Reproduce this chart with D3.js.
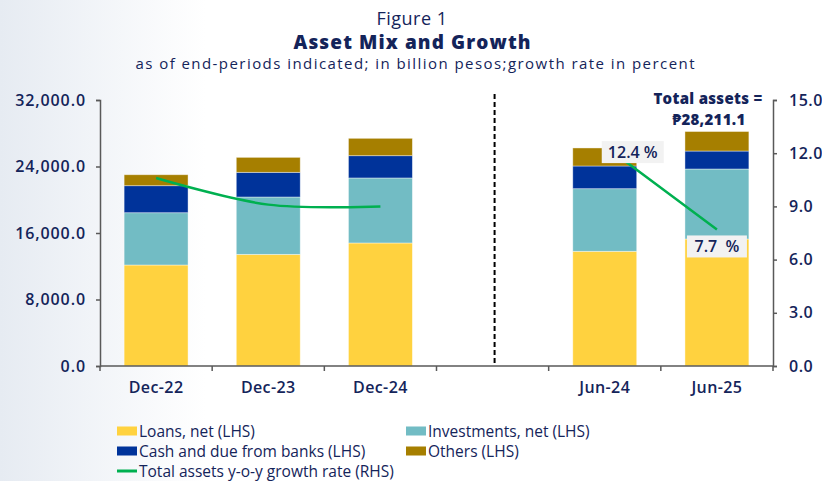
<!DOCTYPE html>
<html>
<head>
<meta charset="utf-8">
<script src="https://cdn.jsdelivr.net/npm/d3@7"></script>
<style>
  body { margin: 0; background: #fff; }
  svg text { font-family: "Open Sans", "Noto Sans", sans-serif; fill: #14245a; }
</style>
</head>
<body>
<svg id="chart" width="822" height="481"></svg>
<script>
// data
var categories = ["Dec-22", "Dec-23", "Dec-24", "", "Jun-24", "Jun-25"];
var loans       = [12150, 13430, 14800, null, 13800, 15280];
var investments = [6290, 6900, 7820, null, 7530, 8420];
var cash        = [3250, 2970, 2680, null, 2730, 2160];
var others      = [1320, 1800, 2090, null, 2170, 2350];
var growth      = [10.6, 9.1, 9.0, null, 12.4, 7.7];
var leftTicks   = [0, 8000, 16000, 24000, 32000];
var rightTicks  = [0, 3, 6, 9, 12, 15];
var seriesNames = ["Loans, net (LHS)", "Investments, net (LHS)", "Cash and due from banks (LHS)", "Others (LHS)"];
var colors = ["#ffd23f", "#72bcc4", "#00339a", "#a67f00"];

var svg = d3.select("#chart"),
    margin = { top: 100, right: 49, bottom: 115, left: 100 },
    width = +svg.attr("width") - margin.left - margin.right,
    height = +svg.attr("height") - margin.top - margin.bottom;

// background fade on the left
var grad = svg.append("defs").append("linearGradient").attr("id", "bg");
grad.append("stop").attr("offset", "0").attr("stop-color", "#e6ebf2");
grad.append("stop").attr("offset", "0.25").attr("stop-color", "#ffffff");
svg.append("rect").attr("width", 822).attr("height", 481).attr("fill", "url(#bg)");

var g = svg.append("g").attr("transform", "translate(" + margin.left + "," + margin.top + ")");

var x = d3.scaleBand()
    .domain(d3.range(categories.length))
    .range([0, width])
    .paddingInner(0.43)
    .paddingOuter(0.215);

var y = d3.scaleLinear().domain([0, 32000]).range([height, 0]);
var y2 = d3.scaleLinear().domain([0, 15]).range([height, 0]);

// stacked bars
var rows = categories.map(function (c, i) {
    return { i: i, loans: loans[i], inv: investments[i], cash: cash[i], oth: others[i] };
}).filter(function (d) { return d.loans != null; });

var stack = d3.stack().keys(["loans", "inv", "cash", "oth"]);
var layers = stack(rows);

g.selectAll(".layer")
    .data(layers)
    .enter().append("g")
    .attr("fill", function (d, k) { return colors[k]; })
    .selectAll("rect")
    .data(function (d) { return d; })
    .enter().append("rect")
    .attr("x", function (d) { return x(d.data.i); })
    .attr("width", x.bandwidth())
    .attr("y", function (d) { return y(d[1]); })
    .attr("height", function (d) { return y(d[0]) - y(d[1]); })
    .attr("stroke", "#ffffff")
    .attr("stroke-opacity", 0.5)
    .attr("stroke-width", 0.8);

// axes
var axisColor = "#595959";
var left = g.append("g")
    .call(d3.axisLeft(y).tickValues(leftTicks).tickSize(4).tickFormat(d3.format(",.1f")));
left.select(".domain").attr("stroke", axisColor).attr("stroke-width", 1.5);
left.selectAll(".tick line").attr("stroke", axisColor).attr("stroke-width", 1.5);
left.selectAll("text").attr("x", -14).style("font-size", "16px").style("font-weight", 600)
    .style("letter-spacing", "0.9px").style("fill", "#14245a");

var right = g.append("g")
    .attr("transform", "translate(" + width + ",0)")
    .call(d3.axisRight(y2).tickValues(rightTicks).tickSize(4).tickFormat(d3.format(".1f")));
right.select(".domain").attr("stroke", axisColor).attr("stroke-width", 1.5);
right.selectAll(".tick line").attr("stroke", axisColor).attr("stroke-width", 1.5);
right.selectAll("text").attr("x", 16).style("font-size", "16px").style("font-weight", 600)
    .style("letter-spacing", "0.5px").style("fill", "#14245a");

// bottom axis with ticks between categories
var step = x.step();
var bottom = g.append("g").attr("transform", "translate(0," + height + ")");
bottom.append("line").attr("x1", 0).attr("x2", width).attr("stroke", axisColor).attr("stroke-width", 1.5);
bottom.selectAll(".bt")
    .data(d3.range(categories.length + 1))
    .enter().append("line")
    .attr("x1", function (d) { return d * step; })
    .attr("x2", function (d) { return d * step; })
    .attr("y1", 0).attr("y2", 5)
    .attr("stroke", axisColor).attr("stroke-width", 1.5);
bottom.selectAll(".bl")
    .data(categories)
    .enter().append("text")
    .attr("x", function (d, i) { return x(i) + x.bandwidth() / 2; })
    .attr("y", 27)
    .attr("text-anchor", "middle")
    .style("font-size", "16px")
    .style("font-weight", 600)
    .style("letter-spacing", "0.4px")
    .text(function (d) { return d; });

// dashed separator
g.append("line")
    .attr("x1", x(3) + x.bandwidth() / 2 + 2)
    .attr("x2", x(3) + x.bandwidth() / 2 + 2)
    .attr("y1", -6).attr("y2", height)
    .attr("stroke", "#000").attr("stroke-width", 2)
    .attr("stroke-dasharray", "5,3");

// growth line
var line = d3.line()
    .defined(function (d) { return d != null; })
    .x(function (d, i) { return x(i) + x.bandwidth() / 2; })
    .y(function (d) { return y2(d); })
    .curve(d3.curveCatmullRom.alpha(0.5));

g.append("path")
    .datum(growth)
    .attr("fill", "none")
    .attr("stroke", "#00b050")
    .attr("stroke-width", 2.5)
    .attr("d", line);

// labels on the last two points
var labelPos = [{ i: 4, dx: 28, dy: 6, w: 62 }, { i: 5, dx: 0, dy: 17, w: 60 }];
labelPos.forEach(function (p) {
    var cx = x(p.i) + x.bandwidth() / 2 + p.dx,
        cy = y2(growth[p.i]) + p.dy;
    g.append("rect")
        .attr("x", cx - p.w / 2).attr("y", cy - 11)
        .attr("width", p.w).attr("height", 22)
        .attr("fill", "#f2f2f2");
    g.append("text")
        .attr("x", cx).attr("y", cy + 6)
        .attr("text-anchor", "middle")
        .style("font-size", "16px")
        .style("font-weight", 600)
        .style("white-space", "pre")
        .text(p.i === 5 ? growth[p.i].toFixed(1) + "  %" : growth[p.i].toFixed(1) + " %");
});

// total assets note
var total = 28211.1;
svg.append("text")
    .attr("x", 708).attr("y", 104).attr("text-anchor", "middle")
    .style("font-size", "15px").style("font-weight", 800)
    .style("letter-spacing", "0.3px")
    .text("Total assets =");
svg.append("text")
    .attr("x", 709).attr("y", 125).attr("text-anchor", "middle")
    .style("font-size", "15px").style("font-weight", 800)
    .style("letter-spacing", "0.3px")
    .text("\u20b1" + d3.format(",.1f")(total));

// titles
svg.append("text").attr("x", 412).attr("y", 25).attr("text-anchor", "middle")
    .style("font-size", "18px").style("letter-spacing", "0.5px").text("Figure 1");
svg.append("text").attr("x", 412).attr("y", 49).attr("text-anchor", "middle")
    .attr("textLength", 237).attr("lengthAdjust", "spacing")
    .style("font-size", "19px").style("font-weight", 800).text("Asset Mix and Growth");
svg.append("text").attr("x", 415).attr("y", 69).attr("text-anchor", "middle")
    .attr("textLength", 559).attr("lengthAdjust", "spacing")
    .style("font-size", "15px").text("as of end-periods indicated; in billion pesos;growth rate in percent");

// legend
var legendItems = [
    { name: seriesNames[0], color: colors[0], col: 0, row: 0 },
    { name: seriesNames[1], color: colors[1], col: 1, row: 0 },
    { name: seriesNames[2], color: colors[2], col: 0, row: 1 },
    { name: seriesNames[3], color: colors[3], col: 1, row: 1 },
    { name: "Total assets y-o-y growth rate (RHS)", color: "#00b050", col: 0, row: 2, line: true }
];
var legend = svg.append("g");
legendItems.forEach(function (d) {
    var lx = d.col === 0 ? 117 : 406,
        ly = 431 + d.row * 20;
    if (d.line) {
        legend.append("rect").attr("x", lx).attr("y", ly - 1.5).attr("width", 20).attr("height", 3).attr("fill", d.color);
    } else {
        legend.append("rect").attr("x", lx).attr("y", ly - 4.5).attr("width", 20).attr("height", 9).attr("fill", d.color);
    }
    legend.append("text").attr("x", lx + 22).attr("y", ly + 5.5)
        .style("font-size", "15.5px").text(d.name);
});
</script>
</body>
</html>
